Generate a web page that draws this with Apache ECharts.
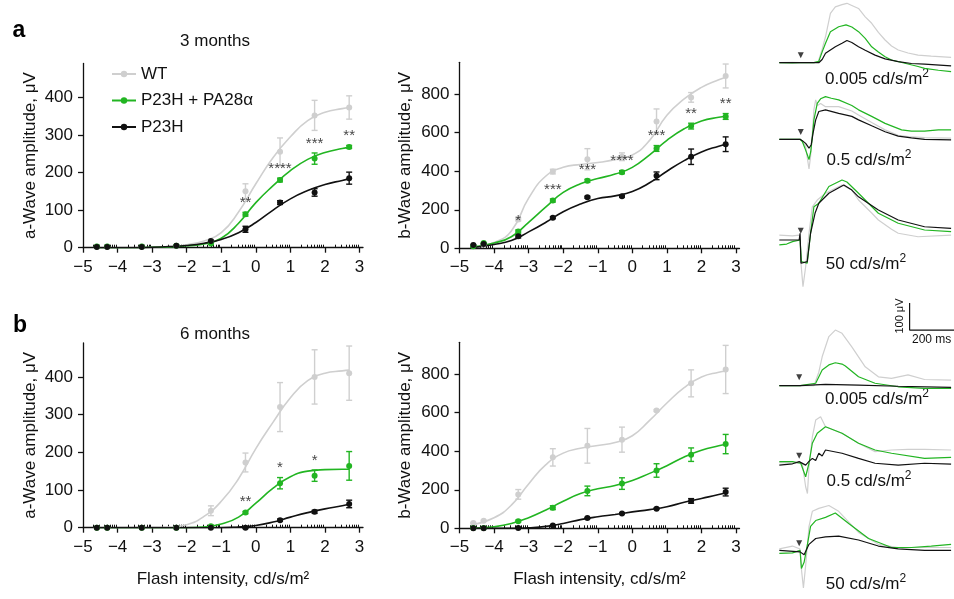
<!DOCTYPE html>
<html>
<head>
<meta charset="utf-8">
<script src="https://cdn.jsdelivr.net/npm/echarts@6/dist/echarts.min.js"></script>
<style>
html, body { margin: 0; padding: 0; background: #fff; }
#chart { width: 954px; height: 599px; }
</style>
</head>
<body>
<div id="chart"></div>
<script>
// flash intensity, log10 cd/s/m2
var flash = [-4.6, -4.3, -3.3, -2.3, -1.3, -0.3, 0.7, 1.7, 2.7];
var curveX = [-4.6, -4, -3.5, -3, -2.5, -2, -1.5, -1, -0.5, 0, 0.5, 1, 1.5, 2, 2.5, 2.7];

// a-wave, 3 months
var aWT3 = [3, 3, 3, 5, 15, 150, 255, 352, 373];
var aWT3Err = [0, 0, 0, 0, 3, 20, 37, 40, 31];
var aPA3 = [3, 3, 3, 5, 11, 89, 180, 237, 268];
var aPA3Err = [0, 0, 0, 0, 2, 5, 5, 15, 4];
var aP3 = [2, 2, 2, 5, 18, 49, 120, 147, 185];
var aP3Err = [0, 0, 0, 0, 2, 8, 5, 10, 16];
var aStars3 = ['', '', '', '', '', '**', '****', '***', '**'];
var aWT3Fit = [0, 0, 0, 1, 3, 8, 18, 40, 95, 170, 240, 295, 338, 360, 370, 373];
var aPA3Fit = [0, 0, 0, 1, 2, 5, 10, 25, 65, 120, 165, 205, 235, 253, 264, 267];
var aP3Fit = [0, 0, 0, 1, 3, 6, 12, 22, 40, 67, 100, 130, 152, 168, 179, 183];

// b-wave, 3 months
var bWT3 = [15, 20, 150, 398, 462, 475, 658, 783, 894];
var bWT3Err = [3, 3, 8, 12, 55, 20, 65, 25, 62];
var bPA3 = [10, 27, 87, 248, 350, 395, 518, 634, 684];
var bPA3Err = [3, 3, 8, 8, 8, 8, 15, 15, 15];
var bP3 = [17, 22, 62, 159, 265, 270, 376, 475, 540];
var bP3Err = [2, 2, 8, 5, 5, 5, 20, 40, 38];
var bStars3 = ['', '', '*', '***', '***', '****', '***', '**', '**'];
var bWT3Fit = [5, 30, 90, 260, 375, 420, 435, 445, 460, 484, 560, 690, 775, 835, 875, 888];
var bPA3Fit = [8, 28, 60, 135, 215, 290, 335, 362, 385, 420, 485, 560, 620, 660, 680, 685];
var bP3Fit = [5, 20, 40, 85, 135, 190, 230, 258, 272, 295, 340, 400, 455, 500, 530, 540];

// a-wave, 6 months
var aWT6 = [0, 0, 0, 0, 45, 173, 320, 400, 410];
var aWT6Err = [0, 0, 0, 0, 13, 25, 65, 72, 72];
var aPA6 = [0, 0, 0, 0, 4, 40, 118, 138, 164];
var aPA6Err = [0, 0, 0, 0, 2, 3, 15, 15, 38];
var aP6 = [0, 0, 0, 0, 0, 0, 20, 42, 63];
var aP6Err = [0, 0, 0, 0, 0, 2, 3, 4, 10];
var aStars6 = ['', '', '', '', '', '**', '*', '*', ''];
var aWT6Fit = [0, 0, 0, 0, 2, 8, 30, 70, 130, 210, 280, 345, 390, 410, 416, 418];
var aPA6Fit = [0, 0, 0, 0, 0, 0, 2, 10, 28, 65, 105, 135, 150, 154, 155, 155];
var aP6Fit = [0, 0, 0, 0, 0, 0, 0, 0, 2, 6, 15, 28, 40, 50, 58, 62];

// b-wave, 6 months
var bWT6 = [27, 39, 176, 368, 428, 460, 611, 752, 824];
var bWT6Err = [3, 3, 25, 45, 90, 65, 5, 70, 125];
var bPA6 = [2, 2, 37, 107, 194, 232, 300, 382, 437];
var bPA6Err = [2, 2, 5, 10, 25, 30, 35, 35, 50];
var bP6 = [0, 0, 2, 14, 53, 77, 102, 142, 188];
var bP6Err = [0, 0, 2, 3, 3, 3, 3, 12, 20];
var bStars6 = ['', '', '', '', '', '', '', '', ''];
var bWT6Fit = [20, 55, 120, 230, 330, 390, 415, 430, 445, 480, 560, 650, 730, 785, 810, 815];
var bPA6Fit = [0, 8, 25, 55, 95, 140, 180, 205, 222, 248, 285, 325, 370, 405, 428, 435];
var bP6Fit = [0, 0, 0, 3, 10, 25, 45, 60, 72, 85, 97, 112, 135, 155, 175, 186];

// axis ticks
var majorTicks = [-5, -4, -3, -2, -1, 0, 1, 2, 3];
var aTicks = [0, 100, 200, 300, 400];
var bTicks = [0, 200, 400, 600, 800];

// ERG traces [ms, uV]
var trA1WT = [[-93,0],[-34,1],[0,0],[62,0],[81,3],[99,50],[114,96],[136,183],[158,207],[188,215],[210,220],[232,212],[262,201],[292,170],[321,146],[351,112],[381,84],[410,62],[440,47],[484,36],[529,28],[588,24],[677,20]];
var trA1PA = [[-93,0],[-34,-1],[0,0],[62,0],[84,5],[99,40],[114,72],[136,115],[173,133],[206,140],[232,132],[262,115],[292,90],[321,59],[351,40],[381,22],[410,10],[470,-2],[529,-14],[558,-21],[620,-28],[677,-33]];
var trA1P = [[-93,0],[0,0],[84,0],[99,12],[114,35],[158,59],[188,72],[210,82],[232,75],[262,59],[292,46],[336,28],[381,14],[440,4],[499,-3],[558,-5],[677,-12]];

var trA2WT = [[-93,0],[0,0],[10,-5],[25,-27],[40,-110],[47,-64],[55,22],[62,110],[70,146],[78,125],[92,133],[114,121],[173,121],[232,105],[262,90],[321,62],[381,35],[440,15],[484,10],[558,6],[677,4]];
var trA2PA = [[-93,0],[0,0],[10,-8],[25,-40],[40,-75],[48,-45],[55,10],[62,72],[77,133],[92,150],[114,158],[140,152],[173,146],[232,125],[262,109],[321,85],[381,59],[455,35],[499,30],[558,30],[620,35],[677,35]];
var trA2P = [[-93,0],[0,0],[10,-5],[25,-15],[40,-33],[50,-20],[58,22],[70,72],[84,103],[114,109],[173,96],[232,85],[262,72],[321,50],[381,28],[440,12],[499,5],[558,0],[677,-2]];

var trA3WT = [[-93,18],[-34,15],[-4,18],[0,10],[4,-86],[13,-173],[25,-99],[40,25],[55,123],[77,148],[114,173],[188,204],[232,185],[262,148],[321,100],[351,74],[410,40],[440,25],[529,12],[677,18]];
var trA3PA = [[-93,-18],[-60,-15],[-34,-6],[0,0],[6,-80],[32,-86],[47,25],[62,123],[84,136],[129,198],[188,222],[210,215],[262,173],[351,99],[440,62],[558,37],[677,31]];
var trA3P = [[-93,0],[-4,0],[0,25],[4,-86],[32,-80],[47,25],[67,99],[84,136],[129,173],[196,204],[232,185],[262,160],[351,111],[440,74],[558,49],[677,43]];

var trB1WT = [[-93,0],[0,0],[62,0],[84,50],[99,107],[129,182],[158,206],[188,194],[232,144],[292,70],[351,33],[410,27],[484,40],[558,23],[677,21]];
var trB1PA = [[-93,0],[0,0],[70,9],[99,58],[129,77],[158,85],[188,80],[203,73],[262,33],[336,9],[440,-4],[558,-10],[677,-10]];
var trB1P = [[-93,0],[0,0],[114,5],[262,2],[440,-2],[677,-6]];

var trB2WT = [[-93,0],[0,-2],[10,-3],[25,-89],[33,-114],[40,-15],[55,96],[70,158],[92,170],[114,133],[188,109],[262,72],[336,41],[410,47],[484,49],[558,49],[677,47]];
var trB2PA = [[-93,4],[-34,4],[3,-2],[25,-52],[40,-2],[55,72],[77,109],[114,133],[188,109],[262,72],[336,47],[410,35],[558,16],[677,20]];
var trB2P = [[-93,-9],[-34,-4],[-4,4],[25,-9],[40,5],[55,16],[70,8],[84,35],[99,25],[114,47],[188,35],[262,16],[336,-2],[440,-9],[558,-2],[677,-5]];

var trB3WT = [[-93,6],[-34,18],[0,6],[7,-86],[15,-154],[25,-62],[40,99],[55,161],[84,173],[129,185],[173,161],[262,74],[351,25],[440,12],[558,12],[677,12]];
var trB3PA = [[-93,-12],[-34,-10],[0,0],[6,-74],[18,-49],[33,25],[47,99],[70,123],[114,136],[158,154],[218,111],[307,49],[410,12],[499,12],[588,18],[677,25]];
var trB3P = [[-93,0],[0,-6],[18,-18],[40,25],[70,49],[114,56],[173,59],[262,43],[351,18],[440,6],[558,0],[677,0]];

// scale bar: 200 ms x 100 uV
var scaleBar = [[691, 206], [491, 206], [491, 306]];

var FONT = 'Liberation Sans';
var cWT = '#cfcfcf', cPA = '#22b522', cP = '#111111';
var names = ['WT', 'P23H + PA28\u03b1', 'P23H'];

var minorTicks = [];
for (var d = -5; d < 3; d++) {
  for (var k = 2; k <= 9; k++) minorTicks.push(d + Math.log10(k));
}

function fmtMinus(v) {
  return v < 0 ? '\u2212' + Math.abs(v) : String(v);
}

var panels = [
  { grid: { left: 83, top: 63.5, width: 280, height: 184.2 }, yMax: 490, yTicks: aTicks,
    yName: 'a-Wave amplitude, \u03bcV', xName: '', nameGap: 44,
    sets: [[aWT3, aWT3Err, aWT3Fit], [aPA3, aPA3Err, aPA3Fit], [aP3, aP3Err, aP3Fit]], stars: aStars3 },
  { grid: { left: 459.5, top: 62.3, width: 280, height: 186 }, yMax: 965, yTicks: bTicks,
    yName: 'b-Wave amplitude, \u03bcV', xName: '', nameGap: 46,
    sets: [[bWT3, bWT3Err, bWT3Fit], [bPA3, bPA3Err, bPA3Fit], [bP3, bP3Err, bP3Fit]], stars: bStars3 },
  { grid: { left: 83, top: 343, width: 280, height: 184.7 }, yMax: 490, yTicks: aTicks,
    yName: 'a-Wave amplitude, \u03bcV', xName: 'Flash intensity, cd/s/m\u00b2', nameGap: 44,
    sets: [[aWT6, aWT6Err, aWT6Fit], [aPA6, aPA6Err, aPA6Fit], [aP6, aP6Err, aP6Fit]], stars: aStars6 },
  { grid: { left: 459.5, top: 342.3, width: 280, height: 186 }, yMax: 965, yTicks: bTicks,
    yName: 'b-Wave amplitude, \u03bcV', xName: 'Flash intensity, cd/s/m\u00b2', nameGap: 46,
    sets: [[bWT6, bWT6Err, bWT6Fit], [bPA6, bPA6Err, bPA6Fit], [bP6, bP6Err, bP6Fit]], stars: bStars6 }
];

var grids = [], xAxes = [], yAxes = [], series = [];
var colors = [cWT, cPA, cP];

function errSeries(xi, yi, vals, errs, color) {
  return {
    type: 'custom', xAxisIndex: xi, yAxisIndex: yi, silent: true, z: 1,
    data: flash.map(function (x, j) { return [x, vals[j], errs[j]]; }),
    renderItem: function (params, api) {
      var e = api.value(2);
      if (!e) return null;
      var x = api.value(0), y = api.value(1);
      var t = api.coord([x, y + e]), b = api.coord([x, y - e]);
      var w = 3, st = { stroke: color, lineWidth: 1.4 };
      return { type: 'group', children: [
        { type: 'line', shape: { x1: t[0], y1: t[1], x2: b[0], y2: b[1] }, style: st },
        { type: 'line', shape: { x1: t[0] - w, y1: t[1], x2: t[0] + w, y2: t[1] }, style: st },
        { type: 'line', shape: { x1: b[0] - w, y1: b[1], x2: b[0] + w, y2: b[1] }, style: st }
      ] };
    }
  };
}

panels.forEach(function (p, i) {
  grids.push(p.grid);
  xAxes.push({
    gridIndex: i, type: 'value', min: -5, max: 3.1,
    axisLine: { onZero: false, lineStyle: { color: '#111', width: 1.3 } },
    axisTick: { customValues: majorTicks, length: 5, lineStyle: { color: '#111', width: 1.3 } },
    axisLabel: { customValues: majorTicks, formatter: fmtMinus, fontSize: 17, color: '#111', margin: 11, fontFamily: FONT },
    splitLine: { show: false },
    name: p.xName, nameLocation: 'middle', nameGap: 43,
    nameTextStyle: { fontSize: 17, color: '#111', fontFamily: FONT }
  });
  xAxes.push({
    gridIndex: i, type: 'value', min: -5, max: 3.1,
    axisLine: { show: false },
    axisTick: { customValues: minorTicks, length: 3, lineStyle: { color: '#111', width: 1 } },
    axisLabel: { show: false }, splitLine: { show: false }
  });
  yAxes.push({
    gridIndex: i, type: 'value', min: 0, max: p.yMax,
    axisLine: { show: true, onZero: false, lineStyle: { color: '#111', width: 1.3 } },
    axisTick: { show: true, customValues: p.yTicks, length: 5, lineStyle: { color: '#111', width: 1.3 } },
    axisLabel: { customValues: p.yTicks, fontSize: 17, color: '#111', margin: 10, fontFamily: FONT },
    splitLine: { show: false },
    name: p.yName, nameLocation: 'middle', nameGap: p.nameGap,
    nameTextStyle: { fontSize: 17, color: '#111', fontFamily: FONT }
  });
  var xi = i * 2;
  p.sets.forEach(function (s, g) {
    series.push(errSeries(xi, i, s[0], s[1], colors[g]));
    // fitted curve
    series.push({
      type: 'line', name: names[g], xAxisIndex: xi, yAxisIndex: i, z: 2,
      data: curveX.map(function (x, j) { return [x, s[2][j]]; }),
      smooth: 0.5, symbol: 'circle', showSymbol: false,
      lineStyle: { color: colors[g], width: 1.6 },
      itemStyle: { color: colors[g] }
    });
    // mean values
    series.push({
      type: 'scatter', xAxisIndex: xi, yAxisIndex: i, z: 3, silent: true,
      data: flash.map(function (x, j) { return [x, s[0][j]]; }),
      symbol: 'circle', symbolSize: 6, itemStyle: { color: colors[g], opacity: 1 }
    });
  });
  var pa = p.sets[1];
  series.push({
    type: 'scatter', xAxisIndex: xi, yAxisIndex: i, z: 5, silent: true,
    symbolSize: 2, itemStyle: { color: 'rgba(0,0,0,0)' },
    data: flash.map(function (x, j) {
      return { value: [x, pa[0][j] + pa[1][j]], label: { formatter: p.stars[j] } };
    }).filter(function (d, j) { return p.stars[j] !== ''; }),
    label: { show: true, position: 'top', distance: 1, fontSize: 15, color: '#111', fontFamily: FONT }
  });
});

// trace panels
var traces = [
  { base: 62.7, sets: [trA1WT, trA1PA, trA1P], arrow: [3, 28] },
  { base: 139.3, sets: [trA2WT, trA2PA, trA2P], arrow: [3, 27] },
  { base: 240, sets: [trA3WT, trA3PA, trA3P], arrow: [3, 34] },
  { base: 385.7, sets: [trB1WT, trB1PA, trB1P], arrow: [-4, 31] },
  { base: 462.7, sets: [trB2WT, trB2PA, trB2P], arrow: [-4, 26] },
  { base: 556.7, sets: [trB3WT, trB3PA, trB3P], arrow: [-4, 30] }
];

traces.forEach(function (tr, n) {
  var gi = grids.length;
  grids.push({ left: 780, width: 175.5, top: tr.base - 62.64, height: 116.64 });
  xAxes.push({ gridIndex: gi, type: 'value', min: -90, max: 690, show: false });
  yAxes.push({ gridIndex: gi, type: 'value', min: -200, max: 232, show: false });
  var xi = xAxes.length - 1, yi = yAxes.length - 1;
  tr.sets.forEach(function (d, g) {
    series.push({
      type: 'line', xAxisIndex: xi, yAxisIndex: yi, data: d, clip: false,
      symbol: 'none', lineStyle: { color: colors[g], width: 1.2 }, silent: true, z: 2
    });
  });
  series.push({
    type: 'scatter', xAxisIndex: xi, yAxisIndex: yi, data: [tr.arrow], silent: true,
    symbol: 'triangle', symbolRotate: 180, symbolSize: 6, itemStyle: { color: '#111' }, z: 3
  });
  if (n === 3) {
    series.push({
      type: 'line', xAxisIndex: xi, yAxisIndex: yi, data: scaleBar, clip: false,
      symbol: 'none', lineStyle: { color: '#111', width: 1.2 }, silent: true
    });
  }
});

function label(x, y, txt) {
  return {
    type: 'text', x: x, y: y, silent: true,
    style: {
      text: '{m|' + txt + '}{s|2}', textAlign: 'center', textVerticalAlign: 'middle',
      rich: {
        m: { fontSize: 17, fontFamily: FONT, fill: '#111', lineHeight: 20, verticalAlign: 'bottom' },
        s: { fontSize: 12, fontFamily: FONT, fill: '#111', lineHeight: 14, verticalAlign: 'top' }
      }
    }
  };
}

var graphic = [
  { type: 'text', x: 19, y: 31, silent: true, style: { text: 'a', font: 'bold 23px ' + FONT, fill: '#000', textAlign: 'center', textVerticalAlign: 'middle' } },
  { type: 'text', x: 20, y: 326, silent: true, style: { text: 'b', font: 'bold 23px ' + FONT, fill: '#000', textAlign: 'center', textVerticalAlign: 'middle' } },
  { type: 'text', x: 215, y: 41, silent: true, style: { text: '3 months', font: '17px ' + FONT, fill: '#111', textAlign: 'center', textVerticalAlign: 'middle' } },
  { type: 'text', x: 215, y: 334, silent: true, style: { text: '6 months', font: '17px ' + FONT, fill: '#111', textAlign: 'center', textVerticalAlign: 'middle' } },
  label(877, 78, '0.005 cd/s/m'),
  label(869, 159, '0.5 cd/s/m'),
  label(866, 263, '50 cd/s/m'),
  label(877, 398, '0.005 cd/s/m'),
  label(869, 480, '0.5 cd/s/m'),
  label(866, 583, '50 cd/s/m'),
  { type: 'text', x: 900, y: 316, rotation: Math.PI / 2, silent: true, style: { text: '100 \u03bcV', font: '11px ' + FONT, fill: '#111', textAlign: 'center', textVerticalAlign: 'middle' } },
  { type: 'text', x: 912, y: 340, silent: true, style: { text: '200 ms', font: '12px ' + FONT, fill: '#111', textAlign: 'left', textVerticalAlign: 'middle' } }
];

var chart = echarts.init(document.getElementById('chart'));
chart.setOption({
  animation: false,
  backgroundColor: '#fff',
  textStyle: { fontFamily: FONT },
  legend: {
    orient: 'vertical', left: 106, top: 59, itemWidth: 24, itemHeight: 8, itemGap: 6.5,
    data: names, textStyle: { fontSize: 17, color: '#111', lineHeight: 20, fontFamily: FONT }
  },
  grid: grids,
  xAxis: xAxes,
  yAxis: yAxes,
  series: series,
  graphic: graphic
});
</script>
</body>
</html>
